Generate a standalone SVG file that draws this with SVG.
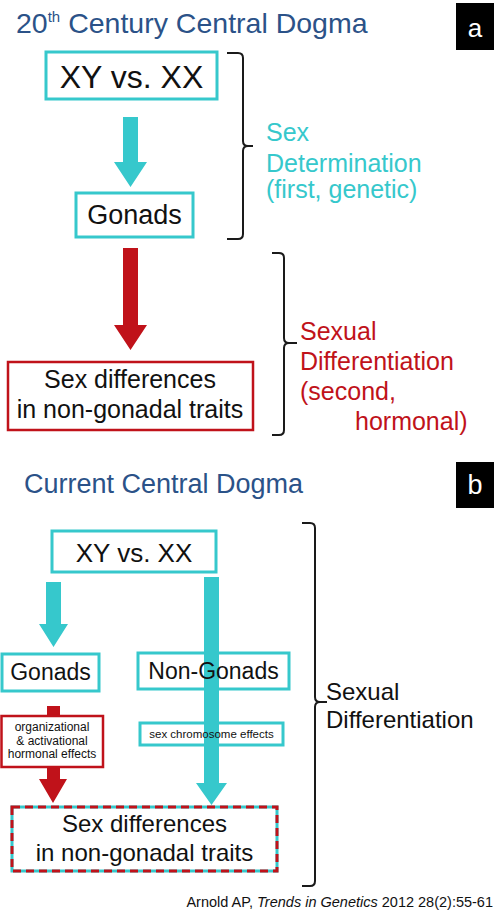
<svg xmlns="http://www.w3.org/2000/svg" width="494" height="911" viewBox="0 0 494 911">
<style>
text{font-family:"Liberation Sans",Arial,Helvetica,sans-serif;}
.box{fill:#fff;stroke:#36c8cc;stroke-width:3;}
.boxn{fill:none;stroke:#36c8cc;stroke-width:3;}
.rbox{fill:#fff;stroke:#c0121a;stroke-width:2.5;}
.teal{fill:#36c8cc;}
.red{fill:#c0121a;}
.br{fill:none;stroke:#1a1a1a;stroke-width:2;}
.t{fill:#111;text-anchor:middle;}
.title{fill:#2b5288;}
</style>
<rect width="494" height="911" fill="#fff"/>

<!-- Panel a -->
<g id="title-a">
<text x="16" y="33" font-size="28.5" class="title">20<tspan font-size="15" dy="-11">th</tspan><tspan dy="11"> Century Central Dogma</tspan></text>
</g>
<g id="label-a">
<rect x="456" y="3" width="38" height="47" fill="#000"/>
<text x="475" y="37" font-size="26" fill="#fff" text-anchor="middle">a</text>
</g>

<g id="connectors">
<polygon class="teal" points="123,117 138,117 138,162 147,162 130.5,187 114,162 123,162"/>
<polygon class="red" points="123,248 138,248 138,325 147,325 130.5,350 114,325 123,325"/>
<polygon class="teal" points="46,582 61,582 61,624 68,624 53.5,647 39,624 46,624"/>
<polygon class="teal" points="204,577 219,577 219,783 227,783 211.5,805 196,783 204,783"/>
<polygon class="red" points="47,706 60,706 60,779 67,779 53,803 39,779 47,779"/>
</g>

<g id="a-xy">
<rect class="box" x="46" y="52" width="171" height="47"/>
<text class="t" x="131.5" y="88" font-size="32">XY vs. XX</text>
</g>
<g id="a-gonads">
<rect class="box" x="76" y="193" width="117" height="44"/>
<text class="t" x="134.5" y="224" font-size="27">Gonads</text>
</g>
<g id="a-sexdiff">
<rect class="rbox" x="8" y="362" width="245" height="68"/>
<text class="t" x="130" y="388" font-size="25">Sex differences</text>
<text class="t" x="130" y="418" font-size="25">in non-gonadal traits</text>
</g>
<g id="a-bracket1">
<path class="br" d="M227,53 H238 Q243,53 243,58 V141 Q243,146 248,146 H253 M248,146 Q243,146 243,151 V234 Q243,239 238,239 H227"/>
</g>
<g id="a-sexdet-label" fill="#36c8cc" font-size="25">
<text x="266" y="141">Sex</text>
<text x="266" y="172">Determination</text>
<text x="266" y="198">(first, genetic)</text>
</g>
<g id="a-bracket2">
<path class="br" d="M272,253 H279 Q284,253 284,258 V338 Q284,343 289,343 H297 M289,343 Q284,343 284,348 V430 Q284,435 279,435 H272"/>
</g>
<g id="a-sexdiff-label" fill="#c0121a" font-size="25">
<text x="300" y="340">Sexual</text>
<text x="300" y="370">Differentiation</text>
<text x="300" y="400">(second,</text>
<text x="355" y="430">hormonal)</text>
</g>

<!-- Panel b -->
<g id="title-b">
<text x="24" y="493" font-size="27" class="title">Current Central Dogma</text>
</g>
<g id="label-b">
<rect x="456" y="462" width="38" height="46" fill="#000"/>
<text x="475" y="494" font-size="27" fill="#fff" text-anchor="middle">b</text>
</g>
<g id="b-xy">
<rect class="box" x="52" y="531" width="164" height="41"/>
<text class="t" x="134" y="562" font-size="26">XY vs. XX</text>
</g>
<g id="b-gonads">
<rect class="box" x="2" y="654" width="97" height="37"/>
<text class="t" x="50.5" y="680" font-size="23">Gonads</text>
</g>
<g id="b-nongonads">
<rect class="boxn" x="138" y="653" width="151" height="36"/>
<text class="t" x="213.5" y="679" font-size="23">Non-Gonads</text>
</g>
<g id="b-hormonal">
<rect class="rbox" x="1.5" y="716" width="101.5" height="51" stroke-width="2"/>
<text class="t" x="52" y="731" font-size="12">organizational</text>
<text class="t" x="52" y="744.5" font-size="12">&amp; activational</text>
<text class="t" x="52" y="758" font-size="12">hormonal effects</text>
</g>
<g id="b-sexchrom">
<rect class="boxn" x="140" y="723" width="143" height="22" stroke-width="2.5"/>
<text class="t" x="211.5" y="738" font-size="11.5">sex chromosome effects</text>
</g>
<g id="b-sexdiff">
<rect x="12" y="807" width="265" height="64" fill="#fff" stroke="#36c8cc" stroke-width="3"/>
<rect x="12" y="807" width="265" height="64" fill="none" stroke="#c0121a" stroke-width="3" stroke-dasharray="8 5"/>
<text class="t" x="144.5" y="832" font-size="24">Sex differences</text>
<text class="t" x="144.5" y="861" font-size="24">in non-gonadal traits</text>
</g>
<g id="b-bracket">
<path class="br" d="M302,523 H310 Q315,523 315,528 V697 Q315,702 320,702 H327 M320,702 Q315,702 315,707 V881 Q315,886 310,886 H302"/>
</g>
<g id="b-sexdiff-label" fill="#111" font-size="24">
<text x="326" y="700">Sexual</text>
<text x="326" y="728">Differentiation</text>
</g>
<g id="citation">
<text x="493" y="907" font-size="14.5" fill="#111" text-anchor="end">Arnold AP, <tspan font-style="italic">Trends in Genetics</tspan> 2012 28(2):55-61</text>
</g>
</svg>
